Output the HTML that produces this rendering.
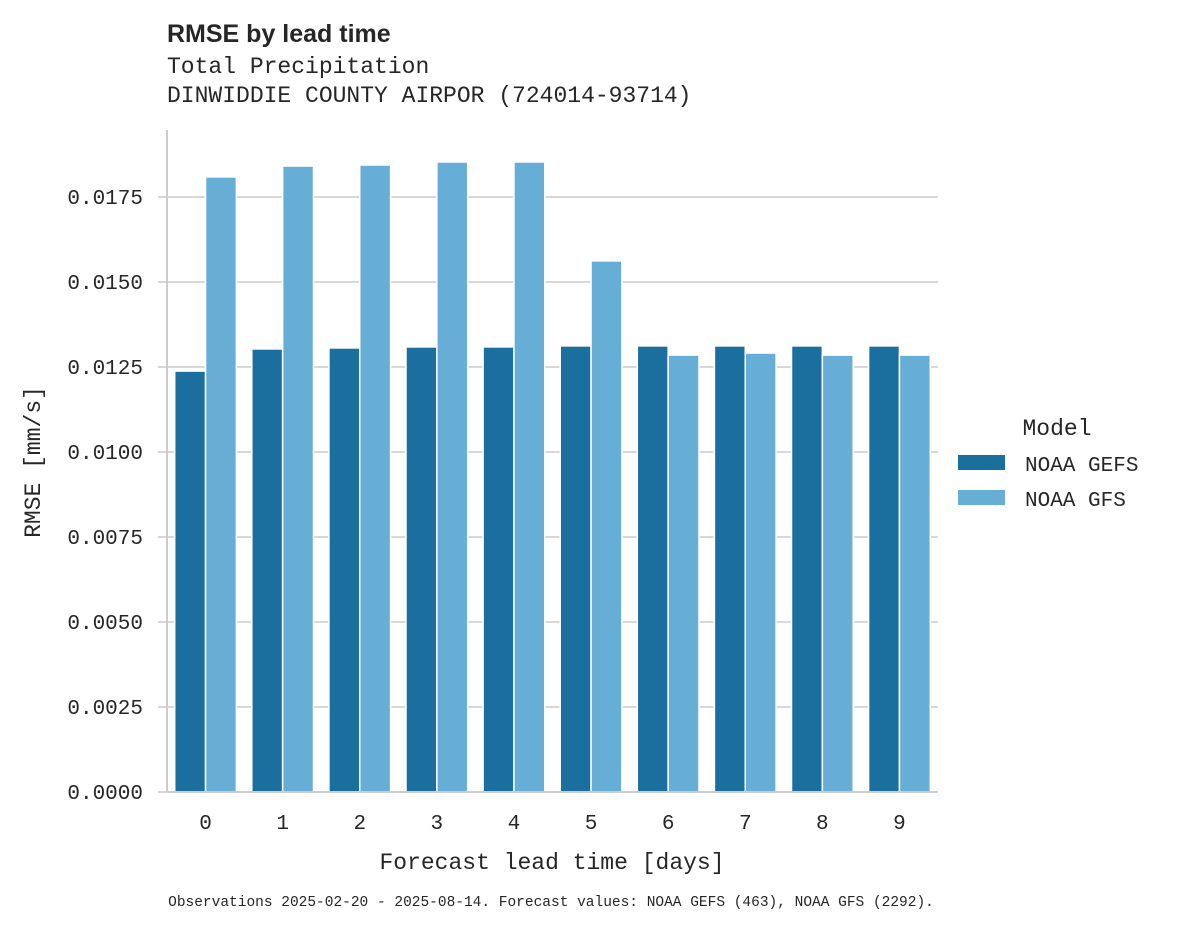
<!DOCTYPE html>
<html><head><meta charset="utf-8">
<style>
html,body{margin:0;padding:0;background:#fff;}
svg text{font-family:"Liberation Mono",monospace;fill:#262626;}
</style></head>
<body>
<svg id="chart" width="1178" height="928" viewBox="0 0 1178 928" xmlns="http://www.w3.org/2000/svg">
<text x="167" y="42" font-family="Liberation Sans, sans-serif" style="font-family:'Liberation Sans',sans-serif" font-size="25" font-weight="bold">RMSE by lead time</text>
<text x="167" y="73" font-size="23">Total Precipitation</text>
<text x="167" y="102" font-size="23">DINWIDDIE COUNTY AIRPOR (724014-93714)</text>
<g id="grid"></g>
<g id="bars"></g>
<g id="axes"></g>
<text x="40" y="462" font-size="23" text-anchor="middle" transform="rotate(-90 40 462)">RMSE [mm/s]</text>
<text x="552" y="869" font-size="23" text-anchor="middle">Forecast lead time [days]</text>
<text x="551" y="906" font-size="14.5" text-anchor="middle">Observations 2025-02-20 - 2025-08-14. Forecast values: NOAA GEFS (463), NOAA GFS (2292).</text>
<g>
<text x="1057" y="435" font-size="23" text-anchor="middle">Model</text>
<rect x="958" y="455" width="47" height="15" fill="#1a6f9f"/>
<text x="1025" y="471" font-size="21">NOAA GEFS</text>
<rect x="958" y="490" width="47" height="15" fill="#67aed6"/>
<text x="1025" y="506" font-size="21">NOAA GFS</text>
</g>
</svg>
<script>
const categories = ["0","1","2","3","4","5","6","7","8","9"];
const gefsValues = [0.01238,0.01303,0.01306,0.01309,0.01309,0.01312,0.01312,0.01312,0.01312,0.01312];
const gfsValues = [0.01809,0.01841,0.01844,0.01853,0.01853,0.01562,0.01285,0.01291,0.01285,0.01285];
const yTicks = [0,0.0025,0.005,0.0075,0.01,0.0125,0.015,0.0175];
const yTickLabels = ["0.0000","0.0025","0.0050","0.0075","0.0100","0.0125","0.0150","0.0175"];

const NS="http://www.w3.org/2000/svg";
const L=167,R=938,B=792,PX=34000;
const y=v=>B-v*PX;
const bandW=(R-L)/categories.length;
const x=i=>L+i*bandW;
function mk(tag,attrs,parent){const e=document.createElementNS(NS,tag);for(const k in attrs)e.setAttribute(k,attrs[k]);parent.appendChild(e);return e;}
const grid=document.getElementById('grid'),bars=document.getElementById('bars'),axes=document.getElementById('axes');
yTicks.forEach((t,i)=>{
  if(t>0){const g=mk('line',{x1:L,x2:R,y1:y(t),y2:y(t),stroke:'#cccccc','stroke-width':1.6},grid);
  
  }
  const tk=mk('line',{x1:L-9,x2:L,y1:y(t),y2:y(t),stroke:'#cccccc','stroke-width':1.6},axes);
  
  
  const tx=mk('text',{x:L-24,y:y(t)+7,'font-size':21,'text-anchor':'end'},axes);
  tx.textContent=yTickLabels[i];
  
  
});
const bw=bandW*0.8/2;
categories.forEach((c,i)=>{
  const x0=x(i)+bandW*0.1;
  const a=mk('rect',{x:x0,y:y(gefsValues[i]),width:bw,height:gefsValues[i]*PX,fill:'#1a6f9f',stroke:'#fff','stroke-width':1.5},bars);
  
  
  const b=mk('rect',{x:x0+bw,y:y(gfsValues[i]),width:bw,height:gfsValues[i]*PX,fill:'#67aed6',stroke:'#fff','stroke-width':1.5},bars);
  
  
  const tx=mk('text',{x:x(i)+bandW/2,y:B+37,'font-size':21,'text-anchor':'middle'},axes);
  tx.textContent=c;
  
  
});
const yl=mk('line',{x1:L,x2:L,y1:130,y2:B,stroke:'#cccccc','stroke-width':2},axes);


const xl=mk('line',{x1:L,x2:R,y1:B,y2:B,stroke:'#cccccc','stroke-width':2},axes);


</script>
</body></html>
